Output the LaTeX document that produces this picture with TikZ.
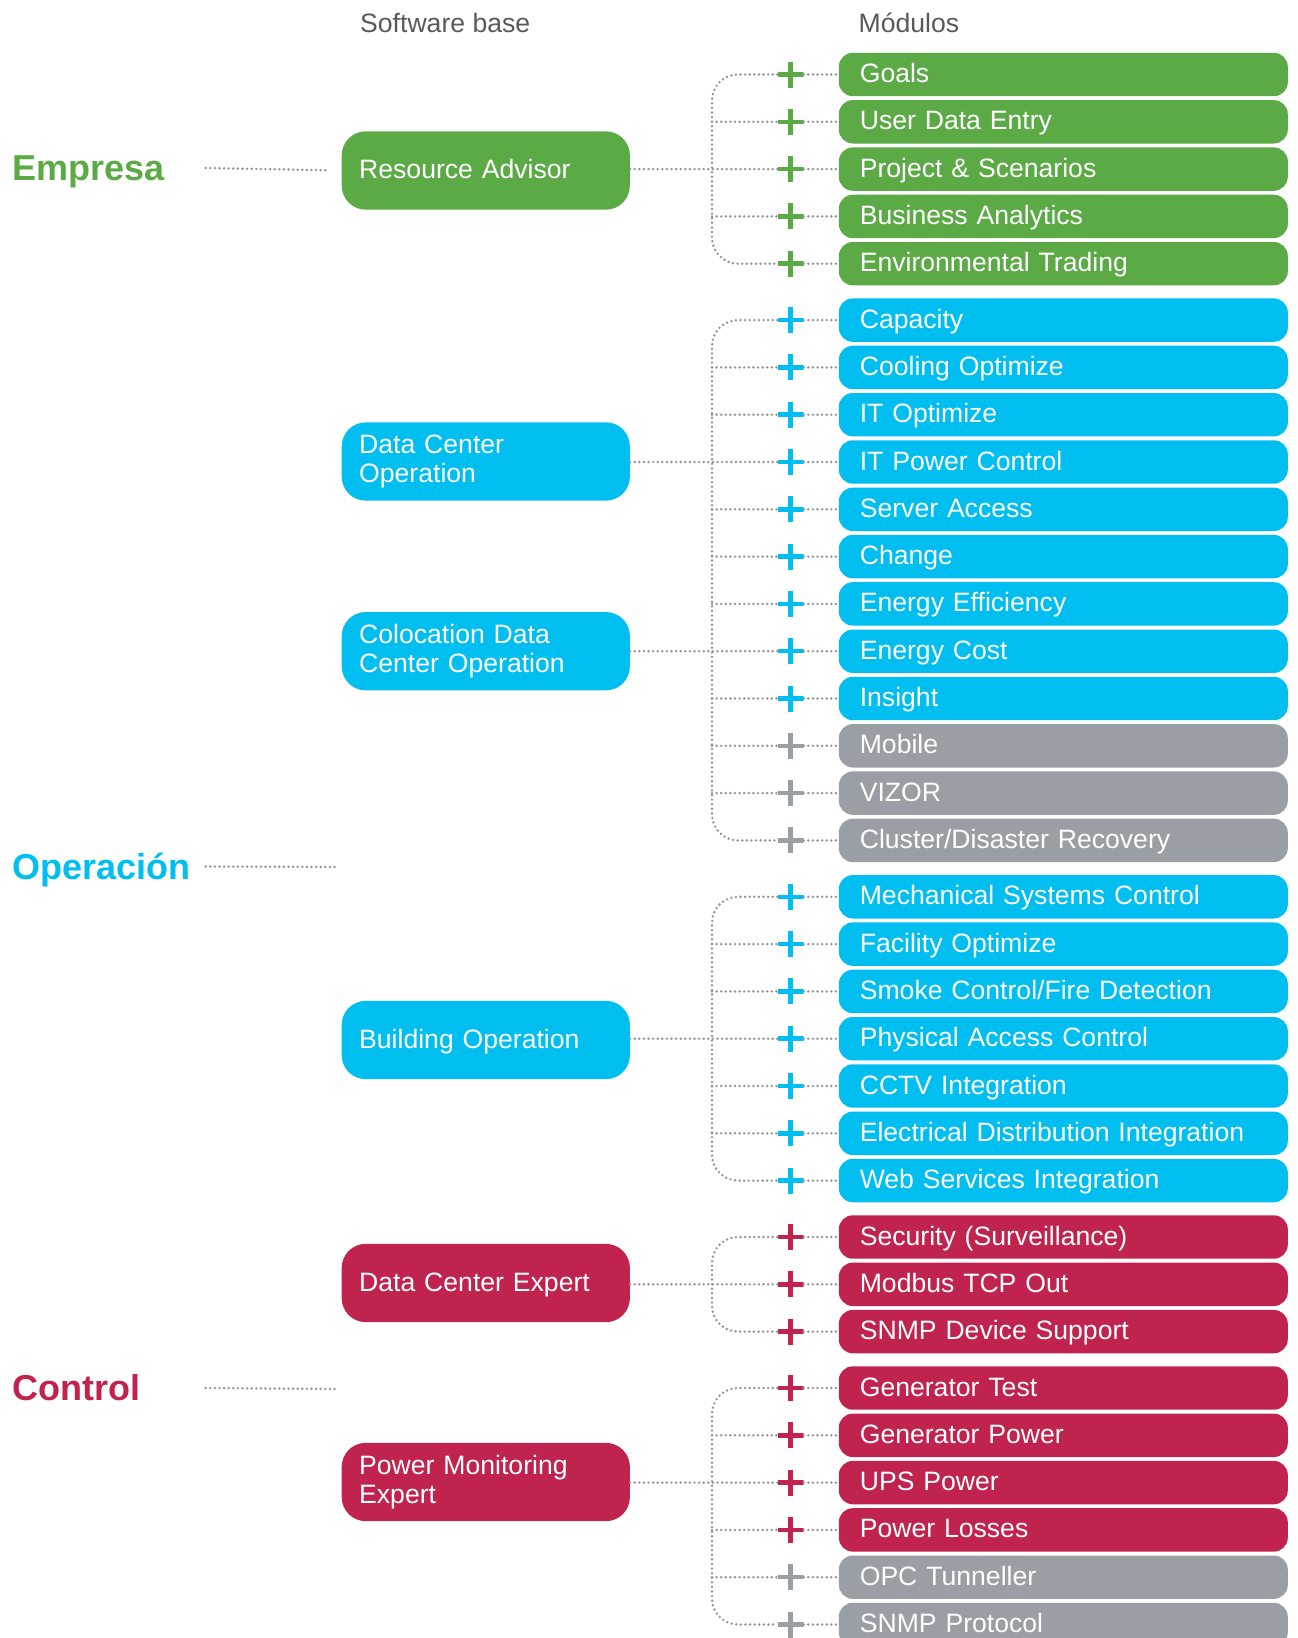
\documentclass[tikz,border=0pt]{standalone}
\usepackage{fontspec}
\setmainfont{Liberation Sans}
\definecolor{cgreen}{HTML}{5BAA46}
\definecolor{cblue}{HTML}{00BEF0}
\definecolor{cred}{HTML}{C1234F}
\definecolor{cgray}{HTML}{9A9FA5}
\definecolor{dotgray}{HTML}{8F949A}
\definecolor{hdrgray}{HTML}{58595B}
\newcommand\modfont{\fontsize{26.6}{29.2}\selectfont}
\newcommand\catfont{\fontsize{36}{40}\selectfont\bfseries}
\newcommand\modrow[4]{%
  \node[modbox, fill=#3] (m#1) at (838.6,#2) {#4};
  \node[plusmark=#3] (p#1) at (790.5,#2) {};
  \draw[dotline] (p#1.east) -- (m#1.west);
}
\newcommand\spinefrom[2]{\draw[dotline, rounded corners=26pt] (p#1.west) -- (p#1.west -| spx) -- (p#2.west -| spx) -- (p#2.west);}
\newcommand\branchto[1]{\draw[dotline] (p#1.west -| spx) -- (p#1.west);}
\begin{document}
\begin{tikzpicture}[x=1pt,y=-1pt,
  dotline/.style={draw=dotgray, line width=2.7pt, line cap=round, dash pattern=on 0pt off 4.6pt},
  modbox/.style={anchor=west, rounded corners=14pt, minimum height=43.4pt, inner xsep=21pt, inner ysep=0pt, text width=407pt, align=left, text=white, font=\modfont, text height=19pt, text depth=3pt},
  sbox/.style={anchor=west, rounded corners=24pt, minimum height=78.3pt, inner xsep=17.5pt, inner ysep=0pt, text width=253.2pt, align=left, text=white, font=\modfont},
  sone/.style={text height=19pt, text depth=3pt},
  plusmark/.style={minimum size=26pt, inner sep=0pt, path picture={\draw[line width=4.5pt, #1] (path picture bounding box.north) -- (path picture bounding box.south) (path picture bounding box.west) -- (path picture bounding box.east);}},
  hdr/.style={anchor=west, inner sep=0pt, font=\modfont, text=hdrgray, text height=19pt, text depth=0pt},
  cat/.style={anchor=west, inner sep=0pt, font=\catfont, text height=25.8pt, text depth=0pt}
]
\useasboundingbox (0,0) rectangle (1298,1638);
\clip (0,0) rectangle (1298,1638);
\coordinate (spx) at (712,0);
\coordinate (dl) at (205.7,0);

% headers
\node[hdr] (hsb) at (360,23) {Software base};
\node[hdr] (hmod) at (858.4,23) {Módulos};

% categories
\node[cat, text=cgreen] (emp) at (12.5,168) {Empresa};
\node[cat, text=cblue] (ope) at (12.5,866.5) {Operación};
\node[cat, text=cred] (ctl) at (12.5,1388) {Control};
\coordinate (opeend) at (337.3,867);
\coordinate (ctlend) at (337.3,1389);

% modules
\modrow{1}{74.5}{cgreen}{Goals}
\modrow{2}{121.8}{cgreen}{User Data Entry}
\modrow{3}{169.1}{cgreen}{Project \& Scenarios}
\modrow{4}{216.4}{cgreen}{Business Analytics}
\modrow{5}{263.7}{cgreen}{Environmental Trading}

\modrow{6}{320.1}{cblue}{Capacity}
\modrow{7}{367.4}{cblue}{Cooling Optimize}
\modrow{8}{414.7}{cblue}{IT Optimize}
\modrow{9}{462.0}{cblue}{IT Power Control}
\modrow{10}{509.3}{cblue}{Server Access}
\modrow{11}{556.6}{cblue}{Change}
\modrow{12}{603.9}{cblue}{Energy Efficiency}
\modrow{13}{651.2}{cblue}{Energy Cost}
\modrow{14}{698.5}{cblue}{Insight}
\modrow{15}{745.8}{cgray}{Mobile}
\modrow{16}{793.1}{cgray}{VIZOR}
\modrow{17}{840.4}{cgray}{Cluster/Disaster Recovery}

\modrow{18}{896.8}{cblue}{Mechanical Systems Control}
\modrow{19}{944.1}{cblue}{Facility Optimize}
\modrow{20}{991.4}{cblue}{Smoke Control/Fire Detection}
\modrow{21}{1038.7}{cblue}{Physical Access Control}
\modrow{22}{1086.0}{cblue}{CCTV Integration}
\modrow{23}{1133.3}{cblue}{Electrical Distribution Integration}
\modrow{24}{1180.6}{cblue}{Web Services Integration}

\modrow{25}{1237.0}{cred}{Security (Surveillance)}
\modrow{26}{1284.3}{cred}{Modbus TCP Out}
\modrow{27}{1331.6}{cred}{SNMP Device Support}

\modrow{28}{1388.0}{cred}{Generator Test}
\modrow{29}{1435.3}{cred}{Generator Power}
\modrow{30}{1482.6}{cred}{UPS Power}
\modrow{31}{1529.9}{cred}{Power Losses}
\modrow{32}{1577.2}{cgray}{OPC Tunneller}
\modrow{33}{1624.5}{cgray}{SNMP Protocol}

% software base boxes
\node[sbox, sone, fill=cgreen] (ra) at (341.5,170.5) {Resource Advisor};
\node[sbox, fill=cblue] (dco) at (341.5,461.5) {Data Center\\Operation};
\node[sbox, fill=cblue] (colo) at (341.5,651.2) {Colocation Data\\Center Operation};
\node[sbox, sone, fill=cblue] (bo) at (341.5,1040) {Building Operation};
\node[sbox, sone, fill=cred] (dce) at (341.5,1283) {Data Center Expert};
\node[sbox, fill=cred] (pme) at (341.5,1482) {Power Monitoring\\Expert};

% category connectors
\draw[dotline, shorten >=14.5pt] (emp.east -| dl) -- (ra.west);
\draw[dotline] (ope.east -| dl) -- (opeend);
\draw[dotline] (ctl.east -| dl) -- (ctlend);

% group 1
\spinefrom{1}{5}
\branchto{2}
\branchto{4}
\draw[dotline] (ra.east |- p3.west) -- (p3.west);

% group 2
\spinefrom{6}{17}
\foreach \k in {7,8,10,11,12,14,15,16} {\branchto{\k}}
\draw[dotline] (dco.east |- p9.west) -- (p9.west);
\draw[dotline] (colo.east) -- (p13.west);

% group 3
\spinefrom{18}{24}
\foreach \k in {19,20,22,23} {\branchto{\k}}
\draw[dotline] (bo.east |- p21.west) -- (p21.west);

% group 4
\spinefrom{25}{27}
\draw[dotline] (dce.east |- p26.west) -- (p26.west);

% group 5
\spinefrom{28}{33}
\foreach \k in {29,31,32} {\branchto{\k}}
\draw[dotline] (pme.east |- p30.west) -- (p30.west);
\end{tikzpicture}
\end{document}
